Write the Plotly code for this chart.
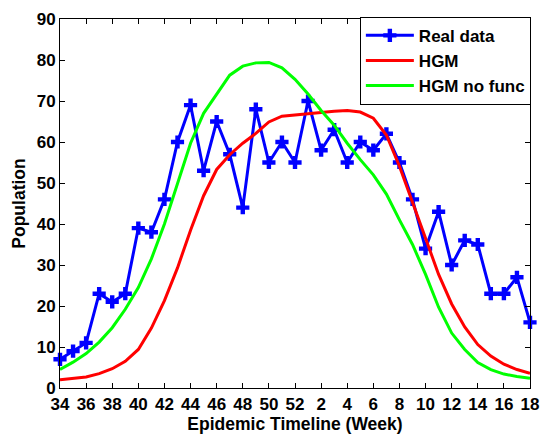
import plotly.graph_objects as go

weeks = [str(w) for w in list(range(34, 53)) + list(range(1, 19))]

real_data = [7, 9, 11, 23, 21, 23, 39, 38, 46, 60, 69, 53, 65, 57, 44, 68, 55, 60, 55,
             70, 58, 63, 55, 60, 58, 62, 55, 46, 34, 43, 30, 36, 35, 23, 23, 27, 16]

hgm = [2.0, 2.3, 2.7, 3.5, 4.7, 6.5, 9.4, 14.6, 21.3, 29.3, 38.5, 46.9, 53.3, 56.9, 59.7, 62.1,
       64.9, 66.3, 66.6, 67.0, 67.3, 67.5, 67.7, 67.3, 65.8, 61.7, 54.1, 45.5, 36.5, 27.7, 20.5,
       14.9, 10.6, 7.8, 5.8, 4.5, 3.6]

hgm_no_func = [4.5, 6.3, 8.4, 11.2, 14.7, 19.2, 24.5, 31.5, 40.0, 50.0, 59.7, 67.0, 71.8, 76.3,
               78.5, 79.3, 79.4, 78.1, 75.3, 71.7, 67.7, 64.1, 59.7, 55.7, 52.0, 47.3, 41.0, 35.0,
               27.7, 19.7, 13.4, 9.4, 6.2, 4.5, 3.4, 2.8, 2.4]

tick_weeks = weeks[::2]
y_ticks = list(range(0, 91, 10))

FONT = "Liberation Sans, Arial, sans-serif"

fig = go.Figure()
fig.add_trace(go.Scatter(
    x=weeks, y=real_data, name="Real data", mode="lines+markers",
    line=dict(color="#0000FF", width=3),
    marker=dict(symbol="cross", size=11, color="#0000FF"),
    cliponaxis=False,
))
fig.add_trace(go.Scatter(
    x=weeks, y=hgm, name="HGM", mode="lines",
    line=dict(color="#FF0000", width=3),
))
fig.add_trace(go.Scatter(
    x=weeks, y=hgm_no_func, name="HGM no func", mode="lines",
    line=dict(color="#00FF00", width=3),
))

axis_common = dict(
    showline=True, linecolor="black", linewidth=1, mirror="ticks",
    ticks="inside", ticklen=5, tickcolor="black", showgrid=False, zeroline=False,
    tickfont=dict(family=FONT, size=17, color="black", weight="bold"),
)

fig.update_layout(
    width=549, height=438,
    margin=dict(l=60, r=10, t=13, b=49),
    paper_bgcolor="white", plot_bgcolor="white",
    font=dict(family=FONT, color="black"),
    xaxis=dict(
        type="category", categoryorder="array", categoryarray=weeks,
        range=[0, len(weeks) - 1],
        tickmode="array", tickvals=tick_weeks, ticktext=tick_weeks,
        ticklabelstandoff=1,
        title=dict(text="Epidemic Timeline (Week)", standoff=1,
                   font=dict(family=FONT, size=17.5, color="black", weight="bold")),
        **axis_common,
    ),
    yaxis=dict(
        range=[0, 90], tickmode="array", tickvals=y_ticks,
        title=dict(text="Population", standoff=6,
                   font=dict(family=FONT, size=17.5, color="black", weight="bold")),
        **axis_common,
    ),
    legend=dict(
        x=0.638, y=1.006, xanchor="left", yanchor="top",
        bgcolor="white", bordercolor="black", borderwidth=1,
        font=dict(family=FONT, size=17, color="black", weight="bold"),
        tracegroupgap=0, itemwidth=48,
    ),
)

fig.write_html("out.html")
